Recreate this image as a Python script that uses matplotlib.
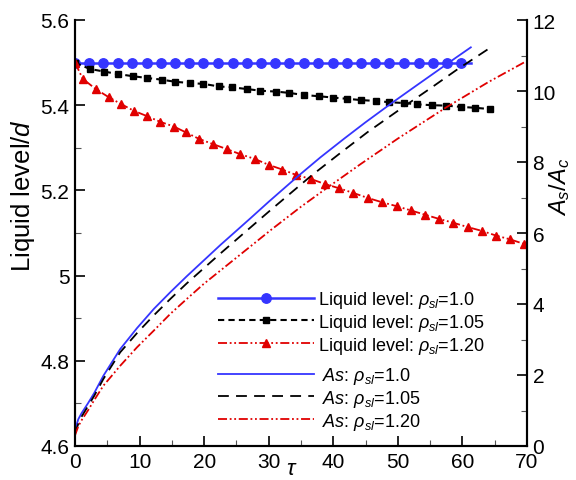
import matplotlib
matplotlib.use('Agg')
import matplotlib.pyplot as plt
from matplotlib.ticker import MultipleLocator, FuncFormatter

plt.rcParams['font.family'] = ['Liberation Sans', 'DejaVu Sans']
plt.rcParams['mathtext.fontset'] = 'custom'
plt.rcParams['mathtext.rm'] = 'Liberation Sans'
plt.rcParams['mathtext.it'] = 'Liberation Sans:italic'
plt.rcParams['mathtext.bf'] = 'Liberation Sans:bold'

# ---------------- data ----------------
# Liquid level, rho_sl = 1.0 (markers) + line end
tau_lvl_10 = [0, 2.2, 4.4, 6.6, 8.9, 11.1, 13.3, 15.5, 17.7, 19.9, 22.1, 24.4, 26.6, 28.8,
              31.0, 33.2, 35.4, 37.7, 39.9, 42.1, 44.3, 46.5, 48.7, 50.9, 53.2, 55.4, 57.6,
              59.8, 61.3]
lvl_10 = [5.5] * len(tau_lvl_10)

# Liquid level, rho_sl = 1.05
tau_lvl_105 = [0, 2.3, 4.5, 6.7, 9.0, 11.1, 13.4, 15.5, 17.8, 19.9, 22.3, 24.3, 26.6, 28.7,
               31.1, 33.1, 35.4, 37.8, 39.9, 42.2, 44.3, 46.6, 48.7, 51.0, 53.0, 55.3, 57.5,
               59.8, 61.9, 64.2]
lvl_105 = [5.500, 5.485, 5.479, 5.473, 5.468, 5.464, 5.460, 5.455, 5.452, 5.450, 5.444, 5.442,
           5.438, 5.434, 5.432, 5.429, 5.424, 5.421, 5.418, 5.415, 5.412, 5.410, 5.407, 5.405,
           5.402, 5.400, 5.399, 5.396, 5.394, 5.391]

# Liquid level, rho_sl = 1.20
tau_lvl_120 = [0, 1.2, 3.2, 5.2, 7.1, 9.1, 11.2, 13.2, 15.3, 17.2, 19.2, 21.3, 23.5, 25.6,
               27.8, 30.0, 32.1, 34.3, 36.5, 38.7, 40.9, 43.1, 45.4, 47.6, 49.8, 52.0, 54.2,
               56.4, 58.6, 60.8, 63.0, 65.2, 67.4, 69.6]
lvl_120 = [5.500, 5.462, 5.438, 5.419, 5.403, 5.387, 5.374, 5.361, 5.350, 5.336, 5.321, 5.309,
           5.297, 5.285, 5.274, 5.260, 5.249, 5.236, 5.227, 5.215, 5.205, 5.194, 5.182, 5.172,
           5.163, 5.153, 5.143, 5.133, 5.124, 5.114, 5.105, 5.094, 5.085, 5.074]

# As/Ac curves
tau_as_10 = [0, 0.5, 1, 2, 3, 4.4, 7.0, 9.6, 12.2, 14.75, 17.3, 19.9, 22.5, 25.1, 27.2, 30,
             34.4, 38, 41.7, 45, 49.2, 53, 56.2, 59, 61.3]
as_10 = [0.45, 0.75, 0.92, 1.2, 1.5, 1.98, 2.73, 3.32, 3.86, 4.33, 4.78, 5.22, 5.66, 6.08,
         6.42, 6.88, 7.58, 8.13, 8.66, 9.12, 9.68, 10.17, 10.58, 10.94, 11.23]

tau_as_105 = [0, 0.5, 1, 2, 3, 4.4, 7.0, 9.6, 12.2, 14.75, 17.3, 19.9, 22.5, 25.1, 27.2, 30,
              36.5, 41, 45.3, 51.0, 55, 59.3, 64.4]
as_105 = [0.35, 0.62, 0.82, 1.12, 1.42, 1.89, 2.64, 3.18, 3.68, 4.14, 4.58, 5.00, 5.42, 5.83,
          6.16, 6.60, 7.60, 8.24, 8.84, 9.57, 10.07, 10.62, 11.23]

tau_as_120 = [0, 0.5, 1, 2, 3, 4.4, 7.0, 9.6, 12.2, 14.75, 17.3, 19.9, 22.5, 25.1, 27.7, 30.3,
              35, 39.1, 44.3, 50, 57.5, 64, 70]
as_120 = [0.3, 0.55, 0.72, 1.0, 1.3, 1.70, 2.26, 2.78, 3.25, 3.72, 4.14, 4.56, 4.94, 5.32,
          5.70, 6.08, 6.74, 7.28, 7.95, 8.66, 9.54, 10.25, 10.85]

x_ticks = [0, 10, 20, 30, 40, 50, 60, 70]

labels_lvl = [r'Liquid level: $\rho_{sl}$=1.0', r'Liquid level: $\rho_{sl}$=1.05',
              r'Liquid level: $\rho_{sl}$=1.20']
labels_as = [r'$As$: $\rho_{sl}$=1.0', r'$As$: $\rho_{sl}$=1.05', r'$As$: $\rho_{sl}$=1.20']

BLUE = '#3535ff'
RED = '#e00000'
DASHDOTDOT = (0, (5, 1.5, 1, 1.5, 1, 1.5))

# ---------------- figure ----------------
fig = plt.figure(figsize=(5.76, 4.81), dpi=100)
ax = fig.add_axes([75 / 576, 1 - 447 / 481, 452 / 576, 426 / 481])
ax2 = ax.twinx()

l1, = ax.plot(tau_lvl_10, lvl_10, color=BLUE, lw=1.8, marker='o', ms=6.8,
              markevery=slice(0, len(tau_lvl_10) - 1))
l2, = ax.plot(tau_lvl_105, lvl_105, color='black', lw=1.5, ls=(0, (3, 2)), marker='s', ms=4.8)
l3, = ax.plot(tau_lvl_120, lvl_120, color=RED, lw=1.3, ls=DASHDOTDOT, marker='^', ms=5.8)

a1, = ax2.plot(tau_as_10, as_10, color=BLUE, lw=1.3)
a2, = ax2.plot(tau_as_105, as_105, color='black', lw=1.3, ls=(0, (6, 4)))
a3, = ax2.plot(tau_as_120, as_120, color=RED, lw=1.3, ls=DASHDOTDOT)

ax.set_xlim(0, 70)
ax.set_ylim(4.6, 5.6)
ax2.set_ylim(0, 12)

ax.set_xticks(x_ticks)
ax.xaxis.set_minor_locator(MultipleLocator(5))
ax.yaxis.set_major_locator(MultipleLocator(0.2))
ax.yaxis.set_minor_locator(MultipleLocator(0.1))
ax.yaxis.set_major_formatter(FuncFormatter(lambda v, p: f'{v:g}'))
ax2.yaxis.set_major_locator(MultipleLocator(2))
ax2.yaxis.set_minor_locator(MultipleLocator(1))

for a in (ax, ax2):
    a.spines['top'].set_visible(False)
    for s in ('left', 'right', 'bottom'):
        a.spines[s].set_linewidth(1.5)
ax.tick_params(which='both', direction='in', top=False, right=False, labelsize=15, pad=4)
ax.tick_params(which='major', length=7, width=1.2)
ax.tick_params(which='minor', length=4, width=0.8, color='#555555')
ax2.tick_params(which='both', direction='in', labelsize=15, pad=4)
ax2.tick_params(which='major', length=7, width=1.2)
ax2.tick_params(which='minor', length=4, width=0.8, color='#555555')

ax.set_ylabel('Liquid level/$d$', fontsize=18.5)
ax.yaxis.set_label_coords(-0.083, 0.59)
ax2.set_ylabel('$A_s/A_c$', fontsize=17)
ax2.yaxis.set_label_coords(1.044, 0.61)
ax.set_xlabel(r'$\tau$', fontsize=16)
ax.xaxis.set_label_coords(0.48, -0.028)

leg1 = ax2.legend([l1, l2, l3], labels_lvl, loc='upper left',
                  bbox_to_anchor=(218 / 576, 1 - 290 / 481), bbox_transform=fig.transFigure,
                  frameon=False, fontsize=13, handlelength=5.3, handletextpad=0.25,
                  borderpad=0, borderaxespad=0, labelspacing=0.1, numpoints=1)
ax2.add_artist(leg1)
leg2 = ax2.legend([a1, a2, a3], labels_as, loc='upper left',
                  bbox_to_anchor=(218 / 576, 1 - 366 / 481), bbox_transform=fig.transFigure,
                  frameon=False, fontsize=13, handlelength=5.3, handletextpad=0.45,
                  borderpad=0, borderaxespad=0, labelspacing=0.1)

fig.savefig('out.png', dpi=100)
